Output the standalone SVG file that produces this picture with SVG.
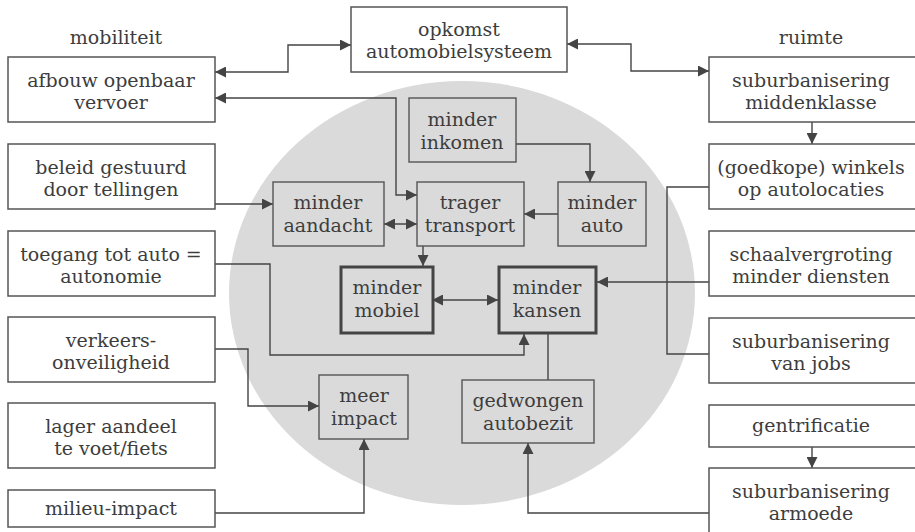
<svg xmlns="http://www.w3.org/2000/svg" width="915" height="532" viewBox="0 0 915 532">
<style>
text{font-family:"DejaVu Serif","Liberation Serif",serif;font-size:19px;fill:#3d3d3d;text-anchor:middle}
.o{fill:#fff;stroke:#555;stroke-width:1.5}
.i{fill:#dadada;stroke:#555;stroke-width:1.4}
.t{fill:#dadada;stroke:#444;stroke-width:3}
.c path{fill:none;stroke:#444;stroke-width:1.4}
.e{marker-end:url(#a)}
.b{marker-start:url(#a);marker-end:url(#a)}
</style>
<defs>
<marker id="a" viewBox="0 0 10 10" refX="10" refY="5" markerWidth="11" markerHeight="11" markerUnits="userSpaceOnUse" orient="auto-start-reverse">
<path d="M0,0 L10,5 L0,10 z" fill="#444"/>
</marker>
</defs>
<rect width="915" height="532" fill="#fff"/>
<ellipse cx="462" cy="293" rx="233" ry="212" fill="#dadada"/>
<text x="116" y="44">mobiliteit</text>
<text x="811" y="44">ruimte</text>
<g class="c" id="connectors">
<path class="b" d="M215,72 H288 V45 H351"/>
<path class="b" d="M567,44 H631 V71 H709"/>
<path class="b" d="M215,98 H396 V195 H417"/>
<path class="e" d="M516,144 H590 V182"/>
<path class="e" d="M558,214 H524"/>
<path class="b" d="M384,224 H417"/>
<path class="e" d="M215,204 H273"/>
<path class="e" d="M423,246 V266"/>
<path class="b" d="M432,300 H498"/>
<path class="e" d="M215,264 H270 V355 H524 V334"/>
<path class="e" d="M215,349 H248 V406 H319"/>
<path class="e" d="M215,513 H364 V439"/>
<path d="M548,334 V380"/>
<path class="e" d="M709,513 H528 V443"/>
<path class="e" d="M709,282 H597"/>
<path d="M709,187 H667 V354 H709"/>
<path class="e" d="M812,122 V144"/>
<path class="e" d="M812,447 V468"/>
</g>
<g id="opkomst"><rect class="o" x="351" y="7" width="216" height="65"/><text x="459" y="36">opkomst</text><text x="459" y="58">automobielsysteem</text></g>
<g id="afbouw"><rect class="o" x="8" y="57" width="207" height="65"/><text x="111" y="87">afbouw openbaar</text><text x="111" y="109">vervoer</text></g>
<g id="beleid"><rect class="o" x="8" y="144" width="207" height="65"/><text x="111" y="174">beleid gestuurd</text><text x="111" y="196">door tellingen</text></g>
<g id="toegang"><rect class="o" x="8" y="231" width="207" height="65"/><text x="111" y="261">toegang tot auto =</text><text x="111" y="283">autonomie</text></g>
<g id="verkeers"><rect class="o" x="8" y="317" width="207" height="65"/><text x="111" y="347">verkeers-</text><text x="111" y="369">onveiligheid</text></g>
<g id="lager"><rect class="o" x="8" y="403" width="207" height="65"/><text x="111" y="433">lager aandeel</text><text x="111" y="455">te voet/fiets</text></g>
<g id="milieu"><rect class="o" x="8" y="490" width="207" height="37"/><text x="111" y="515">milieu-impact</text></g>
<g id="subMidden"><rect class="o" x="709" y="57" width="210" height="65"/><text x="811" y="87">suburbanisering</text><text x="811" y="109">middenklasse</text></g>
<g id="winkels"><rect class="o" x="709" y="144" width="210" height="65"/><text x="811" y="174">(goedkope) winkels</text><text x="811" y="196">op autolocaties</text></g>
<g id="schaal"><rect class="o" x="709" y="231" width="210" height="65"/><text x="811" y="261">schaalvergroting</text><text x="811" y="283">minder diensten</text></g>
<g id="subJobs"><rect class="o" x="709" y="318" width="210" height="65"/><text x="811" y="348">suburbanisering</text><text x="811" y="370">van jobs</text></g>
<g id="gentri"><rect class="o" x="709" y="405" width="210" height="42"/><text x="811" y="432">gentrificatie</text></g>
<g id="subArmoede"><rect class="o" x="709" y="468" width="210" height="70"/><text x="811" y="498">suburbanisering</text><text x="811" y="520">armoede</text></g>
<g id="inkomen"><rect class="i" x="409" y="98" width="107" height="64"/><text x="462" y="126">minder</text><text x="462" y="149">inkomen</text></g>
<g id="aandacht"><rect class="i" x="273" y="182" width="111" height="64"/><text x="328" y="209">minder</text><text x="328" y="232">aandacht</text></g>
<g id="trager"><rect class="i" x="417" y="182" width="107" height="64"/><text x="470" y="209">trager</text><text x="470" y="232">transport</text></g>
<g id="auto"><rect class="i" x="558" y="182" width="88" height="64"/><text x="602" y="209">minder</text><text x="602" y="232">auto</text></g>
<g id="mobiel"><rect class="t" x="341" y="267" width="92" height="66"/><text x="387" y="294">minder</text><text x="387" y="317">mobiel</text></g>
<g id="kansen"><rect class="t" x="499" y="267" width="97" height="66"/><text x="547" y="294">minder</text><text x="547" y="317">kansen</text></g>
<g id="impact"><rect class="i" x="319" y="375" width="89" height="64"/><text x="364" y="402">meer</text><text x="364" y="425">impact</text></g>
<g id="gedwongen"><rect class="i" x="462" y="380" width="132" height="63"/><text x="528" y="407">gedwongen</text><text x="528" y="430">autobezit</text></g>
</svg>
